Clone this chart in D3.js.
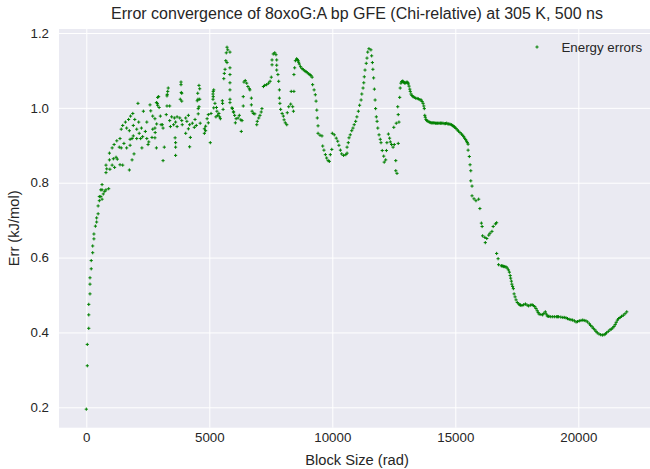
<!DOCTYPE html>
<html>
<head>
<meta charset="utf-8">
<script src="https://cdn.jsdelivr.net/npm/d3@7"></script>
<style>
	body { margin: 0; background: #fff; }
	svg text { font-family: "Liberation Sans", Arial, sans-serif; fill: #262626; }
</style>
</head>
<body>
<div id="chart"></div>
<script>

// Block size (rad) / error (kJ/mol) pairs, split in stretches

// steep rise near zero
const rise = [
	[0,0.195],[40,0.311],[40,0.368],[100,0.411],[100,0.447],[100,0.475],[150,0.503],[150,0.529],
	[150,0.546],[200,0.570],[200,0.592],[260,0.613],[260,0.631],[310,0.650],[310,0.663],[370,0.684],
	[420,0.695],[420,0.706],[480,0.717],[480,0.738],[530,0.752],[590,0.763],[530,0.763],[640,0.756],
	[690,0.770],[640,0.781],[590,0.781],[750,0.777],[800,0.781],[910,0.784],[640,0.795]
];

// the scattered cloud up to ~6000
const cloud = [
	[2100,1.012],[2590,1.008],[2890,1.012],[2940,1.030],[1890,0.985],[1800,0.978],[2320,0.991],[2620,0.992],
	[2700,0.978],[1590,0.962],[1720,0.969],[1970,0.969],[2130,0.962],[2460,0.962],[2860,0.957],[1480,0.953],
	[1640,0.946],[1910,0.953],[2050,0.943],[2240,0.946],[1420,0.943],[1750,0.939],[2150,0.932],[2400,0.937],
	[2700,0.943],[2800,0.934],[1910,0.925],[2290,0.923],[2050,0.918],[1780,0.916],[2460,0.918],[2670,0.921],
	[1370,0.918],[1240,0.912],[1530,0.905],[1860,0.918],[2210,0.918],[2540,0.909],[1130,0.902],[1340,0.895],
	[1640,0.893],[1780,0.900],[2260,0.893],[2510,0.902],[1050,0.893],[1420,0.893],[940,0.879],[1210,0.868],
	[1940,0.877],[1100,0.864],[940,0.861],[1260,0.863],[1860,0.861],[800,0.847],[1050,0.847],[1370,0.848],
	[1480,0.847],[830,0.837],[960,0.836],[1150,0.841],[1750,0.834],[800,0.827],
	[5720,1.162],[5750,1.155],[5690,1.147],[5670,1.126],[5720,1.121],[5640,1.103],[5610,1.092],[5590,1.078],
	[5530,1.019],[5180,1.048],[5150,1.037],[5150,1.023],[4580,1.060],[4610,1.051],[4530,1.039],[4610,1.023],
	[3850,1.069],[3850,1.062],[3880,1.039],[3820,1.023],[3880,1.018],[3330,1.053],[3310,1.044],[3280,1.032],
	[2900,1.028],[2850,1.014],[2900,1.007],[2960,1.001],[3280,1.005],[3390,1.005],[5230,1.012],[5180,1.000],
	[5290,1.001],[5310,0.991],[5390,0.985],[5420,0.976],[5450,0.971],[5340,0.980],[5560,0.996],[5940,0.998],
	[5990,0.989],[5070,0.985],[4960,0.982],[4910,0.971],[4960,0.960],[4850,0.951],[4800,0.944],[4850,0.939],
	[4800,0.932],[5040,0.907],[4630,0.959],[4550,0.984],[4420,0.969],[4310,0.959],[4390,0.948],[4470,0.953],
	[4200,0.955],[4150,0.980],[4040,0.973],[4090,0.964],[4150,0.944],[4040,0.932],[4230,0.921],[4200,0.896],
	[3880,0.966],[3900,0.955],[3800,0.973],[3690,0.976],[3580,0.973],[3630,0.962],[3470,0.976],[3390,0.966],
	[3550,0.955],[3690,0.950],[3420,0.950],[3090,0.955],[3120,0.946],[3040,0.955],[3010,0.978],[3250,0.982],
	[2790,0.971],[2790,0.946],[2790,0.920],[2850,0.893],[3170,0.895],[3610,0.920],[3630,0.907],[3630,0.895],
	[3630,0.873],[3120,0.859],[4580,1.003],[4550,0.998],[4510,1.019],[4540,1.023],[5160,1.044],[5160,1.030],
	[5540,1.012],[5270,0.976],[3860,1.041],[3290,1.036]
];

// the peaks between ~5800 and ~13700
const peaks = [
	[5840,1.149],[5840,1.107],[5840,1.089],[5840,1.067],[5840,1.048],[5840,1.023],[5840,1.014],[5920,1.000],
	[5980,0.989],[6030,0.980],[6090,0.971],[6060,0.960],[6170,0.973],[6220,0.980],[6280,0.968],[6330,0.966],
	[6300,0.937],[6380,1.030],[6380,1.005],[6410,1.069],[6460,1.073],[6520,1.066],[6570,1.057],[6630,1.051],
	[6650,1.048],[6710,1.026],[6710,1.008],[6740,0.991],[6790,0.985],[6850,0.984],[6930,0.955],[6950,0.964],
	[7010,0.973],[7060,0.980],[7110,0.989],[7140,0.998],[7200,1.057],[7250,1.060],[7330,1.062],[7410,1.066],
	[7470,1.071],[7520,1.082],[7550,1.115],[7550,1.128],[7600,1.144],[7660,1.147],[7710,1.142],[7740,1.128],
	[7740,1.114],[7740,1.101],[7790,1.089],[7820,1.071],[7850,1.048],[7850,1.026],[7870,1.012],[7900,0.996],
	[7960,0.985],[8010,0.978],[8040,0.968],[8090,0.960],[8150,0.955],[8170,0.987],[8230,1.003],[8310,1.010],
	[8390,1.003],[8420,0.991],[8330,1.044],[8440,1.044],[8440,1.089],[8470,1.107],[8500,1.126],[8550,1.131],
	[8580,1.129],[8610,1.126],[8630,1.122],[8660,1.117],[8710,1.110],[8770,1.105],[8820,1.102],[8880,1.099],
	[8930,1.097],[8980,1.094],[9040,1.091],[9090,1.089],[9130,1.086],[9180,1.082],[9200,1.062],
	[9260,1.048],[9310,1.035],[9340,1.018],[9370,0.994],[9390,0.973],[9420,0.952],[9420,0.932],[9500,0.927],
	[9580,0.925],[9610,0.898],[9660,0.887],[9720,0.875],[9770,0.866],[9830,0.859],[9880,0.857],
	[9920,0.875],[9980,0.889],[10000,0.932],[10080,0.928],[10160,0.919],[10220,0.911],[10270,0.900],[10330,0.887],
	[10380,0.877],[10460,0.873],[10550,0.875],[10600,0.879],[10600,0.895],[10650,0.907],[10680,0.920],[10730,0.928],
	[10790,0.939],[10840,0.946],[10890,0.955],[10950,0.964],[11000,0.976],[11060,0.991],[11110,1.007],[11170,1.021],
	[11200,1.037],[11250,1.053],[11280,1.067],[11300,1.083],[11330,1.101],[11380,1.119],[11410,1.133],[11440,1.149],
	[11490,1.158],[11570,1.155],[11600,1.139],[11630,1.121],[11650,1.103],[11680,1.080],[11710,1.050],[11740,1.021],
	[11760,0.998],[11790,0.976],[11820,0.964],[11850,0.946],[11900,0.928],[11950,0.916],[11980,0.907],[12030,0.886],
	[12090,0.871],[12110,0.855],[12170,0.861],[12200,0.886],[12220,0.907],[12280,0.930],[12330,0.919],[12360,0.909],
	[12410,0.902],[12470,0.895],[12520,0.902],[12500,0.948],[12600,0.959],[12680,0.905],[12580,0.859],[12580,0.832],
	[12630,0.825],[12660,1.003],[12680,0.982],[12710,0.962],[12740,1.028],[12760,1.053],[12790,1.066],[12820,1.070],
	[12850,1.071],[12870,1.071],[12900,1.069],[12930,1.067],[12960,1.066],[13000,1.068],[13040,1.069],[13070,1.067],
	[13090,1.064],[13120,1.058],[13150,1.050],[13170,1.044],[13200,1.037],[13240,1.033],[13280,1.030],[13330,1.028],
	[13390,1.026],[13450,1.025],[13500,1.024],[13560,1.022],[13610,1.021],[13650,1.017],[13690,1.012],[13720,1.005],
	[13740,0.998]
];

// the long decay to the end
const tail = [
	[13760,0.980],[13780,0.975],[13810,0.969],[13840,0.966],[13890,0.964],[13940,0.962],[13980,0.961],[14020,0.960],
	[14060,0.960],[14100,0.960],[14140,0.960],[14190,0.959],[14230,0.959],[14280,0.959],[14330,0.959],[14380,0.959],
	[14410,0.959],[14450,0.959],[14500,0.959],[14550,0.958],[14600,0.958],[14650,0.959],[14700,0.957],[14740,0.957],
	[14790,0.956],[14840,0.955],[14880,0.953],[14910,0.952],[14950,0.950],[14980,0.948],[15030,0.945],[15080,0.941],
	[15130,0.938],[15190,0.934],[15250,0.930],[15300,0.927],[15340,0.923],[15380,0.919],[15420,0.915],[15460,0.911],
	[15490,0.907],[15520,0.903],[15520,0.887],[15570,0.870],[15600,0.848],
	[15630,0.832],[15630,0.805],[15680,0.791],[15680,0.765],[15760,0.757],[15840,0.752],[15950,0.756],[16000,0.731],
	[16060,0.692],[16090,0.683],[16110,0.658],[16200,0.654],[16220,0.640],[16280,0.651],[16360,0.660],[16410,0.665],
	[16490,0.670],[16540,0.683],[16630,0.690],[16680,0.693],[16680,0.611],[16740,0.597],[16760,0.581],[16870,0.578],
	[16900,0.578],[16940,0.577],[16970,0.576],[17010,0.576],[17060,0.575],[17110,0.572],[17160,0.567],[17200,0.561],
	[17230,0.552],[17250,0.545],[17280,0.537],[17300,0.529],[17330,0.523],[17360,0.517],[17390,0.503],[17430,0.495],
	[17470,0.487],[17520,0.480],[17580,0.476],[17620,0.474],[17650,0.473],[17710,0.472],[17780,0.474],[17850,0.476],
	[17920,0.473],[17980,0.471],[18050,0.473],[18120,0.474],[18170,0.472],[18230,0.469],[18280,0.464],[18330,0.458],
	[18370,0.453],[18410,0.449],[18480,0.448],[18550,0.447],[18600,0.451],[18660,0.455],[18700,0.449],[18740,0.444],
	[18780,0.443],[18810,0.443],[18880,0.442],[18960,0.442],[19040,0.442],[19120,0.442],[19160,0.442],[19200,0.442],
	[19290,0.441],[19370,0.440],[19430,0.440],[19500,0.439],[19560,0.437],[19630,0.435],[19700,0.434],[19770,0.433],
	[19840,0.431],[19910,0.428],[19970,0.429],[20040,0.431],[20110,0.432],[20180,0.433],[20240,0.432],[20310,0.431],
	[20380,0.428],[20450,0.423],[20500,0.419],[20560,0.415],[20610,0.411],[20670,0.407],[20720,0.403],[20770,0.399],
	[20840,0.396],[20910,0.394],[20980,0.393],[21050,0.394],[21100,0.396],[21150,0.399],[21220,0.403],[21290,0.407],
	[21340,0.409],[21400,0.412],[21450,0.416],[21500,0.421],[21540,0.427],[21590,0.433],[21640,0.437],[21700,0.440],
	[21760,0.443],[21830,0.446],[21900,0.450],[21970,0.455]
];

const points = [].concat(rise, cloud, peaks, tail);

const xTicks = [0, 5000, 10000, 15000, 20000];
const yTicks = [0.2, 0.4, 0.6, 0.8, 1.0, 1.2];

const width = 650,
	height = 469;

const plot = { left: 59, top: 29, right: 655, bottom: 427.7 };

const svg = d3.select('#chart').append('svg')
	.attr('width', width)
	.attr('height', height);

const x = d3.scaleLinear()
	.domain([-1110, 23118])
	.range([plot.left, plot.right]);

const y = d3.scaleLinear()
	.domain([0.1455, 1.2107])
	.range([plot.bottom, plot.top]);

// seaborn darkgrid background
svg.append('rect')
	.attr('x', plot.left)
	.attr('y', plot.top)
	.attr('width', plot.right - plot.left)
	.attr('height', plot.bottom - plot.top)
	.style('fill', '#eaeaf2');

const xAxis = svg.append('g')
	.attr('transform', `translate(0,${plot.bottom})`)
	.call(d3.axisBottom(x).tickValues(xTicks).tickFormat(d3.format('d')).tickSize(-(plot.bottom - plot.top)).tickPadding(5));

const yAxis = svg.append('g')
	.attr('transform', `translate(${plot.left},0)`)
	.call(d3.axisLeft(y).tickValues(yTicks).tickFormat(d3.format('.1f')).tickSize(-(plot.right - plot.left)).tickPadding(10));

[xAxis, yAxis].forEach(ax => {
	ax.select('.domain').remove();
	ax.selectAll('line').style('stroke', '#fff').style('stroke-width', 1);
	ax.selectAll('text').style('font-size', '13.3px').style('fill', '#262626');
});

const marker = 'M-1.6,0H1.6M0,-1.6V1.6';

svg.append('g')
	.selectAll('path')
	.data(points)
	.enter()
		.append('path')
			.attr('d', marker)
			.attr('transform', d => `translate(${x(d[0])},${y(d[1])})`)
			.style('stroke', '#008000')
			.style('stroke-width', 1);

// legend, no frame
svg.append('path')
	.attr('d', marker)
	.attr('transform', 'translate(537,47)')
	.style('stroke', '#008000')
	.style('stroke-width', 1);

svg.append('text')
	.attr('x', 561.5)
	.attr('y', 51.5)
	.style('font-size', '13.3px')
	.text('Energy errors');

svg.append('text')
	.attr('x', (plot.left + plot.right) / 2)
	.attr('y', 19)
	.attr('text-anchor', 'middle')
	.style('font-size', '16px')
	.text('Error convergence of 8oxoG:A bp GFE (Chi-relative) at 305 K, 500 ns');

svg.append('text')
	.attr('x', (plot.left + plot.right) / 2)
	.attr('y', 465)
	.attr('text-anchor', 'middle')
	.style('font-size', '14.7px')
	.text('Block Size (rad)');

svg.append('text')
	.attr('transform', `translate(19,${(plot.top + plot.bottom) / 2}) rotate(-90)`)
	.attr('text-anchor', 'middle')
	.style('font-size', '14.7px')
	.text('Err (kJ/mol)');

</script>
</body>
</html>
